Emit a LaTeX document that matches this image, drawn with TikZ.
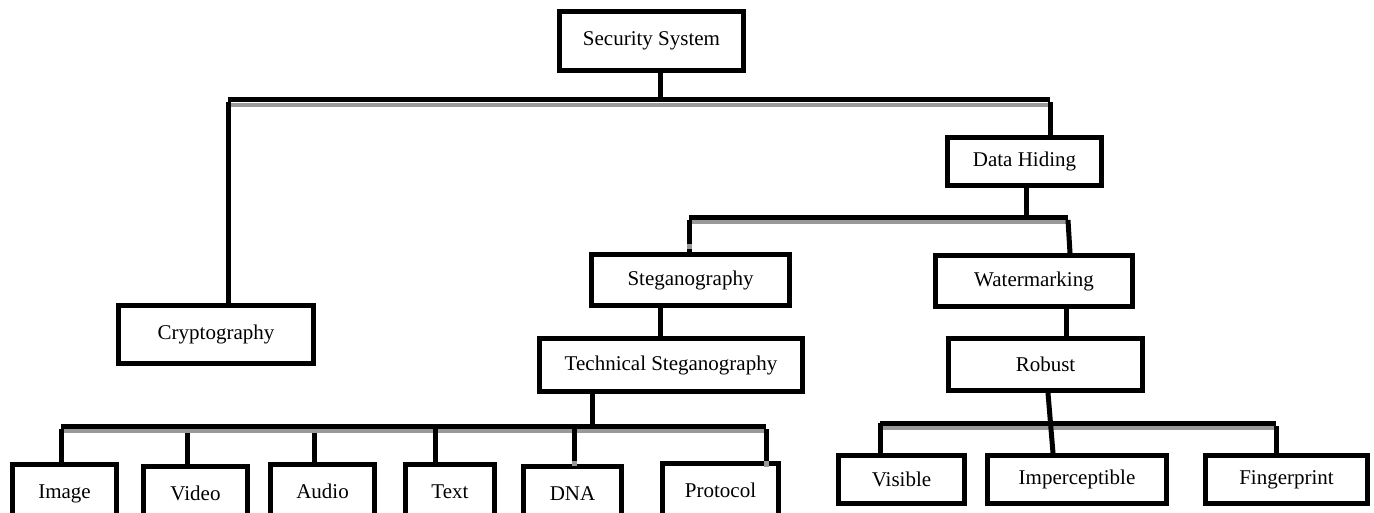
\documentclass[tikz,border=0pt]{standalone}
\usepackage{fontspec}
\setmainfont{Liberation Serif}
\begin{document}
\begin{tikzpicture}[x=1pt,y=-1pt,
  box/.style={draw=black,line width=5pt,fill=white,inner sep=0pt,align=center,
    font=\fontsize{21}{25}\selectfont},
  lowbox/.style={box,minimum height=61pt,anchor=north},
  conn/.style={line width=5pt,line join=miter,draw=black},
  shade/.style={line width=4pt,draw=black!40}]
\useasboundingbox (0,0) rectangle (1374,512);
\clip (0,0) rectangle (1374,512);
\fill[white] (0,0) rectangle (1374,512);

% coordinates of bars and stems
\coordinate (b1) at (660,99.5);
\coordinate (b1l) at (228,99.5);
\coordinate (b1r) at (1050,99.5);
\coordinate (b2) at (1026,217.5);
\coordinate (b2l) at (689,217.5);
\coordinate (b2r) at (1068,217.5);
\coordinate (b3) at (592,426.5);
\coordinate (b3l) at (61,426.5);
\coordinate (b3r) at (766,426.5);
\coordinate (b4) at (1050.5,423);
\coordinate (b4l) at (880,423);
\coordinate (b4r) at (1276,423);

% gray shadows under bars
\draw[shade] (230,104.5) -- (1048,104.5);
\draw[shade] (691,222) -- (1066,222);
\draw[shade] (63,431) -- (764,431);
\draw[shade] (882,427.5) -- (1274,427.5);

% horizontal bars
\draw[conn] (b1l) -- (b1r);
\draw[conn] (b2l) -- (b2r);
\draw[conn] (b3l) -- (b3r);
\draw[conn] (b4l) -- (b4r);

% nodes
\node[box,minimum width=184pt,minimum height=59pt] (sec) at (651.5,41) {Security System};
\node[box,minimum width=195pt,minimum height=58pt] (crypt) at (216,334.5) {Cryptography};
\node[box,minimum width=154pt,minimum height=48pt] (dh) at (1024.5,161.5) {Data Hiding};
\node[box,minimum width=198pt,minimum height=51pt] (steg) at (690.5,280) {Steganography};
\node[box,minimum width=263pt,minimum height=53pt] (tech) at (671,365) {Technical Steganography};
\node[box,minimum width=197pt,minimum height=51pt] (wm) at (1034,281) {Watermarking};
\node[box,minimum width=194pt,minimum height=52pt] (rob) at (1045.5,364.5) {Robust};
\node[lowbox,minimum width=104pt] (image) at (64.5,461.5) {\raisebox{6pt}{Image}};
\node[lowbox,minimum width=104pt] (video) at (195.5,463.5) {\raisebox{6pt}{Video}};
\node[lowbox,minimum width=104pt] (audio) at (322.5,461.5) {\raisebox{6pt}{Audio}};
\node[lowbox,minimum width=89pt] (text) at (450,461.5) {\raisebox{6pt}{Text}};
\node[lowbox,minimum width=98pt] (dna) at (572.5,463.5) {\raisebox{6pt}{DNA}};
\node[lowbox,minimum width=116pt] (proto) at (720.5,460.5) {\raisebox{6pt}{Protocol}};
\node[box,minimum width=126pt,minimum height=48pt] (vis) at (901.5,479.5) {Visible};
\node[box,minimum width=179pt,minimum height=48pt] (imp) at (1077,479.5) {Imperceptible};
\node[box,minimum width=162pt,minimum height=48pt] (fing) at (1286.5,479.5) {Fingerprint};

% stems
\draw[conn] (b1 |- sec.south) -- (b1);
\draw[conn] (crypt.north -| b1l) -- ([yshift=-2.5pt]b1l);
\draw[conn] (dh.north -| b1r) -- ([yshift=-2.5pt]b1r);

\draw[conn] (b2 |- dh.south) -- (b2);
\draw[conn] ([yshift=-2.5pt]b2l) -- (steg.north -| b2l);
\draw[shade,line width=5pt] (689,244) -- (689,249);
\draw[conn] ([yshift=-2.5pt]b2r) -- (wm.north -| 1070,0);

\draw[conn] (steg.south -| 660,0) -- (tech.north -| 660,0);
\draw[conn] (b3 |- tech.south) -- (b3);
\draw[conn] ([yshift=-2.5pt]b3l) -- (image.north -| b3l);
\coordinate (dv) at (187,433);
\coordinate (da) at (314,433);
\coordinate (dt) at (435,426.5);
\coordinate (dd) at (574,426.5);
\draw[conn] (dv) -- (video.north -| dv);
\draw[conn] (da) -- (audio.north -| da);
\draw[conn] (dt) -- (text.north -| dt);
\draw[conn] (dd) -- (574,461);
\draw[shade,line width=5pt] (574,461) -- (574,466);
\draw[conn] ([yshift=-2.5pt]b3r) -- (766,461);
\draw[shade,line width=5pt] (766,461) -- (766,467);

\draw[conn] (wm.south -| 1066,0) -- (rob.north -| 1066,0);
\coordinate (rs) at (1048,393);
\draw[conn] (rs) -- (imp.north -| 1053,0);
\draw[conn] (b4l) -- (vis.north -| b4l);
\draw[conn] ([yshift=-2.5pt]b4r) -- (fing.north -| b4r);
\end{tikzpicture}
\end{document}
